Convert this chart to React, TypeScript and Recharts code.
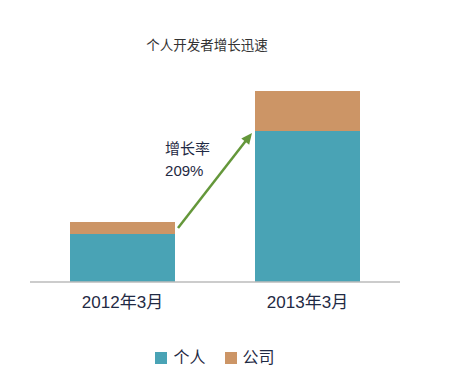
import React from 'react';
import { BarChart, Bar, XAxis, YAxis, Legend, ReferenceLine, ReferenceDot } from 'recharts';

const categories = ['2012年3月', '2013年3月'];
const personal = [48, 151];
const company = [12, 40];
const seriesNames = ['个人', '公司'];
const title = '个人开发者增长迅速';
const growthLabel = ['增长率', '209%'];
// arrow annotation: x as fraction of the plot width (0..1), y in value units
const arrowFrom = { x: 0.4, y: 54 };
const arrowTo = { x: 0.6, y: 149 };
const labelAt = { x: 0.365, y: 134 };

const data = categories.map((c, i) => ({ name: c, personal: personal[i], company: company[i] }));

const TEAL = '#49a3b5';
const TAN = '#cc9566';
const GREEN = '#64973a';
const TEXT = '#1f2a44';
const FONT = '"Liberation Sans", "Noto Sans CJK SC", sans-serif';

const ArrowShape = (props: any) => {
  const { x1, y1, x2, y2 } = props;
  if ([x1, y1, x2, y2].some((v) => typeof v !== 'number' || isNaN(v))) return null;
  const dx = x2 - x1;
  const dy = y2 - y1;
  const len = Math.sqrt(dx * dx + dy * dy);
  const ux = dx / len;
  const uy = dy / len;
  const hl = 11;
  const hw = 5;
  const bx = x2 - ux * hl;
  const by = y2 - uy * hl;
  const px = -uy;
  const py = ux;
  return (
    <g>
      <line x1={x1} y1={y1} x2={bx + ux * 2} y2={by + uy * 2} stroke={GREEN} strokeWidth={2.5} />
      <polygon
        points={`${x2},${y2} ${bx + px * hw},${by + py * hw} ${bx - px * hw},${by - py * hw}`}
        fill={GREEN}
      />
    </g>
  );
};

const LabelShape = (props: any) => {
  const { cx, cy } = props;
  if (typeof cx !== 'number' || typeof cy !== 'number') return null;
  return (
    <g>
      <text x={cx} y={cy} dominantBaseline="central" fontSize={15} fill={TEXT} fontFamily={FONT}>
        {growthLabel[0]}
      </text>
      <text x={cx} y={cy + 22} dominantBaseline="central" fontSize={15} fill={TEXT} fontFamily={FONT}>
        {growthLabel[1]}
      </text>
    </g>
  );
};

const LegendContent = (props: any) => {
  const { payload } = props;
  return (
    <div style={{ display: 'flex', justifyContent: 'center', fontFamily: FONT }}>
      {(payload || []).map((p: any, i: number) => (
        <div key={i} style={{ display: 'flex', alignItems: 'center', marginRight: i === 0 ? 19 : 0 }}>
          <span style={{ display: 'inline-block', width: 12, height: 12, background: p.color, marginRight: 6 }} />
          <span style={{ fontSize: 16, color: TEXT, lineHeight: '20px' }}>{p.value}</span>
        </div>
      ))}
    </div>
  );
};

export default function App() {
  return (
    <div style={{ position: 'relative', width: 452, height: 383 }}>
      <div
        style={{
          position: 'absolute',
          top: 26,
          left: 0,
          width: 398,
          textAlign: 'center',
          fontFamily: FONT,
          fontSize: 13.5,
          color: '#333',
        }}
      >
        {title}
      </div>
      <BarChart
        width={452}
        height={383}
        data={data}
        margin={{ top: 74, right: 60, left: 22, bottom: 59 }}
      >
        <XAxis
          xAxisId={0}
          dataKey="name"
          height={30}
          tickLine={false}
          axisLine={{ stroke: '#bbbbbb', strokeWidth: 1.5 }}
          tickMargin={8}
          tick={{ fontSize: 17, fill: TEXT, fontFamily: FONT }}
        />
        <XAxis xAxisId="pos" type="number" domain={[0, 1]} allowDataOverflow hide />
        <YAxis domain={[0, 200]} hide />
        <Bar
          dataKey="personal"
          name={seriesNames[0]}
          stackId="a"
          fill={TEAL}
          barSize={105}
          isAnimationActive={false}
        />
        <Bar
          dataKey="company"
          name={seriesNames[1]}
          stackId="a"
          fill={TAN}
          barSize={105}
          isAnimationActive={false}
        />
        <ReferenceLine
          xAxisId="pos"
          segment={[arrowFrom, arrowTo]}
          shape={ArrowShape}
        />
        <ReferenceDot
          xAxisId="pos"
          x={labelAt.x}
          y={labelAt.y}
          r={0}
          shape={LabelShape}
        />
        <Legend
          verticalAlign="bottom"
          height={20}
          content={LegendContent}
          wrapperStyle={{ top: 340, bottom: 'auto' }}
        />
      </BarChart>
    </div>
  );
}
